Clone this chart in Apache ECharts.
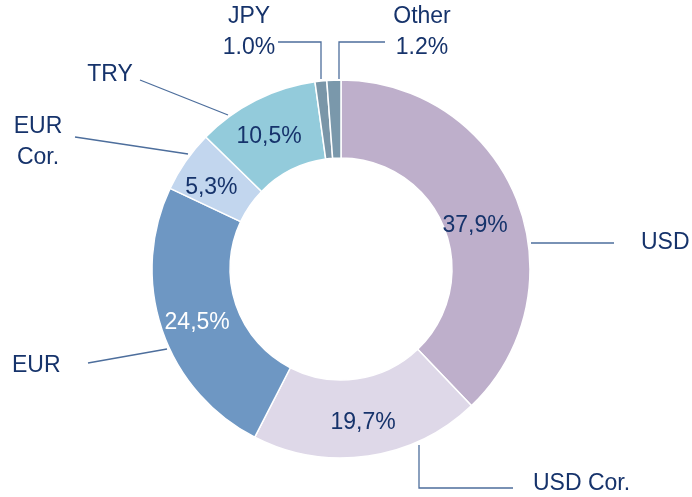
<!DOCTYPE html>
<html>
<head>
<meta charset="utf-8">
<script src="https://cdn.jsdelivr.net/npm/echarts@6/dist/echarts.min.js"></script>
<style>
  html, body { margin: 0; padding: 0; background: #fff; }
  #main { width: 692px; height: 497px; }
</style>
</head>
<body>
<div id="main"></div>
<script>
// data
const currencies = ['USD', 'USD Cor.', 'EUR', 'EUR Cor.', 'TRY', 'JPY', 'Other'];
const shares = [37.9, 19.7, 24.5, 5.3, 10.5, 1.0, 1.2];
const sliceColors = ['#BEAFCB', '#DED8E8', '#6E97C3', '#C2D6EE', '#93CBDB', '#7A96A8', '#7A98AB'];
const insideShown = [true, true, true, true, true, false, false];

const navy = '#16336B';
const lineColor = '#4D6E9C';

// small nudges for the inside percentages
const insideOffset = [[-8, 14], [0, 2], [1, 4], [-4, 6], [-3, 4], [0, 0], [0, 0]];

// where each outside label sits and how its leader line runs (layout only)
const outerLayout = [
  { x: 641, y: 243, align: 'left', line: [[531, 243], [614, 243]] },
  { x: 533, y: 484, align: 'left', line: [[419, 445], [419, 488], [513, 488]] },
  { x: 12, y: 366, align: 'left', line: [[167, 349], [88, 363]] },
  { x: 38, y: 142, align: 'center', line: [[188, 154], [75, 137]] },
  { x: 110, y: 75, align: 'center', line: [[228, 115], [140, 80]] },
  { x: 249, y: 32, align: 'center', line: [[321, 79], [321, 42], [278, 42]] },
  { x: 422, y: 32, align: 'center', line: [[339, 79], [339, 42], [385, 42]] }
];

const fmtComma = v => v.toFixed(1).replace('.', ',') + '%';

let myChart = echarts.init(document.getElementById('main'));

const innerData = currencies.map((n, i) => ({
  name: n,
  value: shares[i],
  itemStyle: { color: sliceColors[i] },
  label: { show: insideShown[i], color: i === 2 ? '#ffffff' : navy, offset: insideOffset[i] }
}));

const outerData = currencies.map((n, i) => ({
  name: n,
  value: shares[i]
}));

myChart.setOption({
  animation: false,
  series: [
    {
      type: 'pie',
      radius: [111, 189],
      center: [341, 269],
      startAngle: 90,
      clockwise: true,
      silent: true,
      itemStyle: { borderColor: '#ffffff', borderWidth: 1.5 },
      label: {
        position: 'inside',
        fontFamily: 'Liberation Sans, Arial, sans-serif',
        fontSize: 23,
        formatter: p => fmtComma(p.value)
      },
      labelLine: { show: false },
      data: innerData
    },
    {
      // transparent copy that carries the outside names and leader lines
      type: 'pie',
      radius: [111, 189],
      center: [341, 269],
      startAngle: 90,
      clockwise: true,
      silent: true,
      itemStyle: { color: 'rgba(0,0,0,0)' },
      label: {
        show: true,
        position: 'outside',
        color: navy,
        fontFamily: 'Liberation Sans, Arial, sans-serif',
        fontSize: 23,
        lineHeight: 31,
        formatter: p => (p.dataIndex >= 5 ? p.name + '\n' + p.value.toFixed(1) + '%' : p.name.replace('EUR Cor.', 'EUR\nCor.'))
      },
      labelLine: {
        show: true,
        length: 10,
        length2: 10,
        lineStyle: { color: lineColor, width: 1.3 }
      },
      labelLayout: function (params) {
        const cfg = outerLayout[params.dataIndex];
        return {
          x: cfg.x,
          y: cfg.y,
          align: cfg.align,
          verticalAlign: 'middle',
          labelLinePoints: cfg.line.length === 2 ? [cfg.line[0], cfg.line[0], cfg.line[1]] : cfg.line
        };
      },
      data: outerData
    }
  ]
});
</script>
</body>
</html>
